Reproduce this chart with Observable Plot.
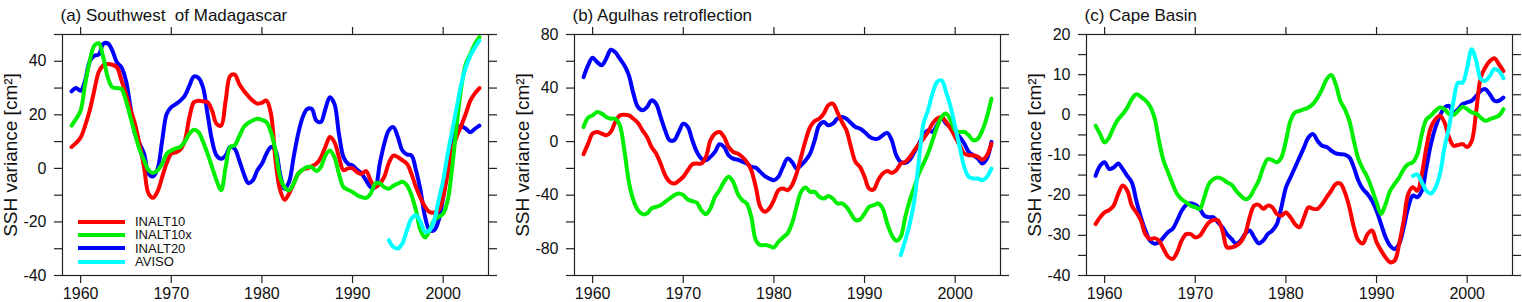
<!DOCTYPE html>
<html><head><meta charset="utf-8">
<script src="https://cdn.jsdelivr.net/npm/d3@7"></script>
<script src="https://cdn.jsdelivr.net/npm/@observablehq/plot@0.6"></script>
<style>
body{margin:0;background:#fff;font-family:"Liberation Sans",Arial,sans-serif;}
#wrap{position:relative;display:flex;width:1522px;height:302px;overflow:hidden;}
#wrap svg{display:block;}
.legend{position:absolute;left:78px;top:215px;font-size:13px;color:#111;}
.legend .row{display:flex;align-items:center;height:13.3px;}
.legend .bar{width:47px;height:4px;margin-right:10px;}
</style>
</head><body><div id="wrap"></div>
<script>
// x categories
const years = d3.range(1959, 2004.01, 0.5);
const avisoYears = d3.range(1994, 2004.01, 0.5);
const xTicks = [1960, 1970, 1980, 1990, 2000];
const seriesNames = ["INALT10", "INALT10x", "INALT20", "AVISO"];
const seriesColors = ["#ff0000", "#00ee00", "#0000ff", "#00ffff"];
const titles = ["(a) Southwest  of Madagascar", "(b) Agulhas retroflection", "(c) Cape Basin"];
const yLabel = "SSH variance [cm\u00b2]";

// (a) Southwest of Madagascar
const a_inalt10 = [8, 9.5, 11.5, 16, 21.6, 29, 36, 38.5, 39, 38.7,
  37.8, 33, 27.8, 22, 16.6, 9, 0.5, -9.5, -11, -8.5,
  -3.2, 2, 5.5, 6, 7, 10.4, 19, 24.7, 25.3, 25,
  24.7, 21.6, 16.6, 16, 25.3, 34.5, 35, 31.5, 29, 27,
  25.3, 24.2, 24.5, 25.3, 20.4, 3, -8, -11.7, -9.4, -5.7,
  -2, -0.5, 0, 0.8, 1.7, 4, 8, 11.7, 9.8, 4.2,
  -0.7, 0, 0, -1.4, -2, -1, -4.5, -7, -5.7, -3.2,
  2, 4.8, 4.2, 3, 1.7, -2, -7, -11, -14.4, -16.3,
  -16.5, -15.7, -10.7, -2, 6.7, 12, 16, 20.5, 25.3, 28,
  30];
const a_inalt10x = [16, 18.5, 21.6, 31.5, 40, 45.8, 46.7, 41.5, 34, 30.3,
  30, 29.7, 25.3, 19, 12.9, 7, 3, -0.7, -1.7, -0.7,
  1.7, 5.5, 6.7, 7.5, 8, 10, 12.9, 14.4, 13.5, 10,
  5.5, 0.5, -4.5, -8.2, 0.5, 8, 8.6, 12, 15.4, 17,
  17.9, 18.5, 18.1, 17.3, 13.5, 6.7, -3.2, -7, -8.2, -5.7,
  -2, -0.5, 0.5, 0.5, -1, 0.5, 4.8, 6.7, 4.2, -2,
  -7, -8, -8.8, -10, -10.7, -11, -9.4, -5.7, -5.5, -7,
  -7.6, -6.5, -5.7, -5, -6.3, -10, -15.7, -23.1, -25.8, -23.1,
  -19.4, -18.1, -16.9, -11.9, 0.5, 16.6, 30.3, 39, 42.7, 46.5,
  49];
const a_inalt20 = [28.8, 30, 29, 32.8, 40, 42, 42.5, 46.5, 46.7, 44,
  39.6, 37.8, 32.8, 22.9, 12.9, 9.2, 5.5, -2, -3, 0,
  10.4, 20.4, 22.9, 24, 25.3, 27.2, 30.9, 34.3, 33.8, 30.3,
  20.4, 10.4, 4.8, 3.6, 4.8, 8, 7.3, 3, -2, -5.5,
  -4.5, -0.7, 1.7, 5.5, 8, 6.7, -2, -7.6, -5, 4.2,
  12.9, 19.1, 22.2, 22.2, 17.9, 17.3, 22.2, 26.6, 24.1, 12.9,
  4.2, 1.7, 1.1, -0.5, -2, -4.5, -7, -7, 1.7, 9.2,
  14.2, 15.4, 11.7, 6.7, 5.2, 4.8, -0.7, -8.2, -18.1, -23.1,
  -23.1, -19.4, -10.7, 1.7, 10.4, 15.4, 15.7, 14.8, 13.5, 14.8,
  16];
const a_aviso = [-26.8, -29.3, -29.9, -28, -23.1, -18.8, -17.5, -19.9, -23.7, -23.1,
  -19.4, -11.9, -4.5, 5.5, 14.2, 22.9, 31.5, 37.8, 42.1, 45.2, 47.7];

// (b) Agulhas retroflection
const b_inalt10 = [-9.4, -1.5, 6, 7.2, 6, 4.7, 7.2, 14.7, 19.6, 20.1,
  19.6, 17.1, 13.9, 8.4, 3.5, -4, -8.9, -16.4, -25.1, -30,
  -31.3, -29.3, -26.3, -21.4, -16.9, -16.4, -16.4, -11.4, 1, 6,
  7.2, 3.5, -4, -7.7, -8.9, -11.4, -15.2, -21.4, -33.8, -48.7,
  -52.4, -49.9, -43.7, -36.3, -35, -36.3, -32.5, -23.9, -11.4, 1,
  10.9, 15.4, 17.1, 20.9, 27.1, 28.3, 22.1, 14.7, 8.4, -4,
  -15.2, -18.9, -26.3, -35, -35.8, -28.8, -23.9, -21.9, -23.4, -21.4,
  -16.4, -15.2, -11.4, -6.5, -2, 2.2, 7.2, 13.4, 17.1, 18.4,
  14.7, 9.7, 3.5, -2.7, -8.9, -10.2, -10.2, -11.4, -13.4, -10.2,
  -1.5];
const b_inalt10x = [10.9, 17.9, 19.6, 22.1, 20.9, 18.4, 17.1, 17.1, 12.2, -6.5,
  -30, -43.7, -51.2, -54.2, -53.7, -49.9, -48.7, -47.5, -45, -42.5,
  -40, -38.8, -40, -43.2, -44.5, -45.7, -51.2, -54.2, -49.9, -41.2,
  -36.3, -30, -26.3, -30, -38.8, -43.7, -46.2, -56.1, -73.5, -77.3,
  -77.3, -78, -79, -74.8, -71.6, -68.6, -61.1, -48.7, -37.5, -34.3,
  -37.5, -37.5, -41.2, -42.5, -40.7, -42.5, -46.2, -46.2, -48.7, -53.7,
  -58.6, -58.1, -53.7, -48.7, -47.5, -46.2, -49.9, -61.1, -69.8, -74,
  -70.8, -56.1, -43.7, -33.8, -23.9, -16.4, -8.9, 1, 10.9, 18.4,
  20.9, 15.9, 8.4, 7.2, 7.2, 4.7, 1, 2.2, 8.4, 18.4,
  32];
const b_inalt20 = [48.2, 57, 62.6, 59.4, 57, 61.9, 68.6, 66.8, 61.9, 57,
  49.4, 35.8, 25.8, 23.4, 25.8, 30.8, 28.3, 18.4, 8.4, 1,
  1, 7.2, 13.4, 10.9, 1, -7.7, -12.7, -13.9, -11.4, -7.7,
  -2, -4, -10.2, -12.7, -13.4, -15, -16.4, -18.9, -19.4, -22.6,
  -25.8, -27.6, -28.8, -26.3, -18.9, -12.7, -15.2, -20.1, -17.6, -13.9,
  -8.9, 1, 12.2, 14.7, 12.2, 13.4, 17.1, 18.4, 17.1, 13.9,
  10.9, 9.7, 7.2, 4, 2.2, 2.2, 4.7, 6.5, 1, -10.2,
  -15.2, -15.9, -13.4, -7.7, -1.5, 4.7, 8.4, 7.2, 12.2, 17.9,
  13.4, 10.9, 7.2, 3.5, -1.5, -7.7, -10.2, -12.7, -16.4, -12.7,
  -0.2];
const b_aviso = [-84.7, -73.5, -61.1, -43.7, -13.9, 13.4, 23.4, 35.8, 44.5, 45.7,
  37, 25.8, 10.9, -4, -18.9, -26.3, -27.6, -27.6, -28.8, -26.3, -20.1];

// (c) Cape Basin
const c_inalt10 = [-27.2, -25.5, -24.3, -23.7, -22.6, -19.7, -17.6, -18.9, -22.6, -24.3,
  -26.3, -29.7, -30.9, -30.7, -31.3, -33.4, -35.3, -35.9, -34.2, -31.3,
  -29.7, -29.7, -30.5, -30.1, -28.4, -26.8, -26.2, -26.3, -28.8, -33,
  -33, -32.6, -31.7, -29.7, -25.5, -22.6, -22.4, -23.4, -22.6, -23,
  -24.7, -25.1, -24.3, -25.5, -27.2, -28, -25.5, -23, -23.4, -23.4,
  -22.2, -20.5, -18.9, -17.2, -17.1, -19.3, -23, -28, -31.3, -32,
  -29.7, -28.8, -31.7, -33.8, -35.5, -36.7, -36.3, -32.1, -26.3, -19.7,
  -18, -18.9, -14.7, -8.1, -3.1, -1.1, -0.2, -1.9, -5.6, -7.7,
  -7.5, -7.3, -8, -6.5, 1, 9.3, 11.8, 13.4, 14.1, 12.6,
  10.9];
const c_inalt10x = [-2.7, -4.8, -6.9, -5.6, -3.1, -1.1, 0.2, 1.8, 3.9, 5.1,
  4.5, 3.6, 2.2, -0.7, -6.5, -11.4, -14.3, -17.2, -19.7, -21,
  -21.8, -22.6, -23, -23.4, -20.5, -17.2, -16, -15.6, -16, -16.8,
  -17.4, -18.9, -20.1, -21, -20.5, -18.5, -16.4, -13.1, -11, -11.3,
  -11.8, -10.6, -6.5, -1.5, 0.6, 1, 1.4, 1.8, 2.7, 4.3,
  6.4, 8.9, 9.9, 7.6, 3.5, 1.4, -1.5, -6.5, -11, -13.5,
  -15.6, -18.5, -21.8, -24.7, -22.2, -18.9, -17.2, -15.6, -13.5, -12.3,
  -11.8, -9.8, -4.8, -1.1, -0.2, 1, 1.8, 1.4, 0.2, 0,
  1, 2, 1.4, 0.6, 0.3, -0.7, -1.5, -1.1, -0.7, -0.2,
  1.4];
const c_inalt20 = [-15.2, -12.7, -11.8, -13.5, -13.1, -12.1, -13.5, -15.2, -16.8, -21.4,
  -25.5, -28.8, -31.3, -32.1, -31.7, -30.5, -29.2, -28.4, -26.3, -23.9,
  -22.4, -22, -22.4, -23.4, -25.1, -25.5, -25.5, -26.8, -28, -29.7,
  -30.9, -32.1, -31.3, -29.7, -28.8, -30.5, -32, -31.3, -29.7, -28.8,
  -27.2, -23, -18.1, -15.6, -13.1, -10.6, -8.1, -5.6, -4.8, -6.5,
  -7.7, -8, -8.9, -9.6, -9.8, -9.9, -10.6, -13.1, -16.4, -18.5,
  -19.7, -21.4, -23.9, -27.2, -30.5, -32.6, -33.4, -32.1, -28, -23,
  -20.1, -20.5, -18.9, -13.1, -7.3, -3.1, -0.2, 1.8, 2.2, 0.6,
  1.4, 2.7, 3.1, 3.5, 4.7, 6, 6.4, 5.1, 3.5, 3.5,
  4.3];
const c_aviso = [-15.2, -14.9, -16.8, -18.9, -19.6, -18.1, -14.7, -8.1, -3.1, 3.5,
  8, 8, 11.8, 16.3, 13.4, 8.9, 8.5, 9.7, 11.4, 10.9, 9.1];

const yDomains = [[-40, 50], [-100, 80], [-40, 20]];
const yTickLists = [d3.range(-40, 50.1, 10), d3.range(-100, 80.1, 20), d3.range(-40, 20.1, 5)];
const yLabelSteps = [20, 40, 10];
const panelData = [
  [a_inalt10, a_inalt10x, a_inalt20, a_aviso],
  [b_inalt10, b_inalt10x, b_inalt20, b_aviso],
  [c_inalt10, c_inalt10x, c_inalt20, c_aviso]
];
// layout
const panelWidths = [507, 507, 508];
const panelMarginLeft = [62, 67, 72];
const panelMarginRight = [19, 14, 10];

const font = "'Liberation Sans', Arial, sans-serif";
const wrap = document.getElementById("wrap");

function lineMark(vals, xs, color) {
  return Plot.line(vals, {x: (d, i) => xs[i], y: d => d, stroke: color, strokeWidth: 4, curve: "catmull-rom", strokeLinejoin: "round", strokeLinecap: "round"});
}

for (let p = 0; p < 3; p++) {
  const [r10, r10x, r20, av] = panelData[p];
  const step = yLabelSteps[p];
  const plot = Plot.plot({
    width: panelWidths[p], height: 302,
    marginLeft: panelMarginLeft[p], marginRight: panelMarginRight[p],
    marginTop: 34, marginBottom: 27,
    style: {fontFamily: font, fontSize: "16px", color: "#111", background: "white", overflow: "visible"},
    x: {domain: [1958, 2005]},
    y: {domain: yDomains[p]},
    marks: [
      lineMark(r20, years, seriesColors[2]),
      lineMark(r10, years, seriesColors[0]),
      lineMark(r10x, years, seriesColors[1]),
      lineMark(av, avisoYears, seriesColors[3]),
      Plot.frame({stroke: "#222", strokeWidth: 1.2}),
      Plot.axisX(xTicks, {anchor: "bottom", tickSize: 8, tickPadding: 4, tickFormat: d => String(d), fontSize: 16, label: null, stroke: "#222", strokeWidth: 1.2}),
      Plot.axisX(xTicks, {anchor: "top", tickSize: 8, tickFormat: () => "", label: null, stroke: "#222", strokeWidth: 1.2}),
      Plot.axisY(yTickLists[p], {anchor: "left", tickSize: 8, tickPadding: 8, tickFormat: d => (d % step === 0 ? String(d) : ""), fontSize: 16, label: null, stroke: "#222", strokeWidth: 1.2}),
      Plot.axisY(yTickLists[p], {anchor: "right", tickSize: 8, tickFormat: () => "", label: null, stroke: "#222", strokeWidth: 1.2}),
      Plot.text([titles[p]], {text: d => d, frameAnchor: "top-left", textAnchor: "start", dx: -2, dy: -26, fontSize: 17}),
      Plot.text([yLabel], {text: d => d, frameAnchor: "left", textAnchor: "middle", lineAnchor: "middle", rotate: -90, dx: -52, fontSize: 19})
    ]
  });
  wrap.appendChild(plot);
}

// legend (panel a)
const leg = document.createElement("div");
leg.className = "legend";
seriesNames.forEach((name, i) => {
  const row = document.createElement("div");
  row.className = "row";
  const bar = document.createElement("span");
  bar.className = "bar";
  bar.style.background = seriesColors[i];
  const lab = document.createElement("span");
  lab.textContent = name;
  row.appendChild(bar); row.appendChild(lab);
  leg.appendChild(row);
});
wrap.appendChild(leg);
</script>
</body></html>
